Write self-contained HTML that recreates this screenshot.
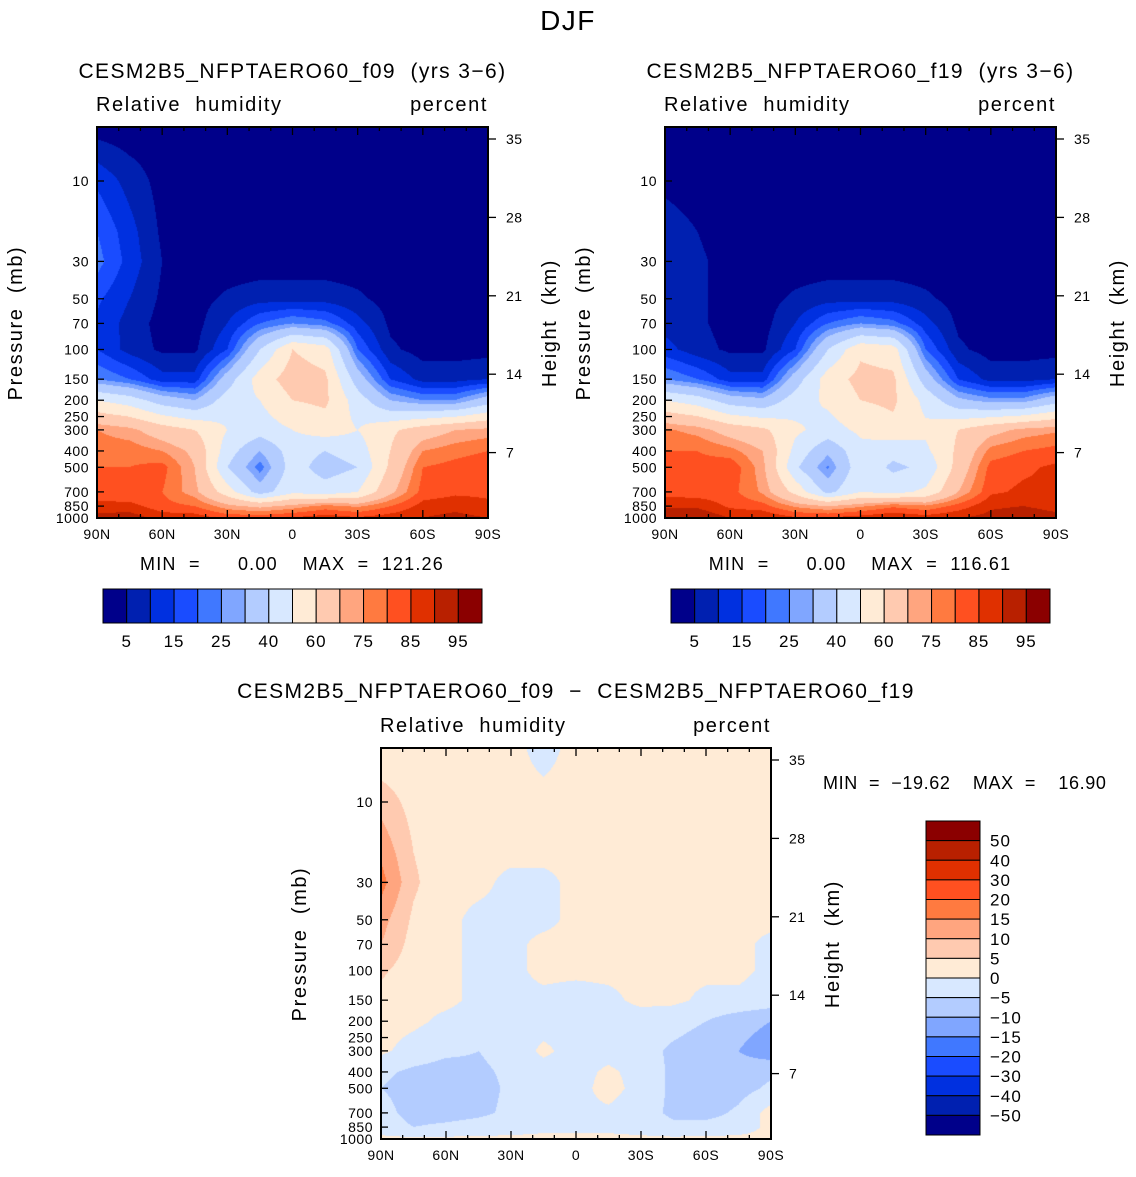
<!DOCTYPE html>
<html><head><meta charset="utf-8">
<style>
body{margin:0;background:#fff;width:1136px;height:1177px;position:relative;overflow:hidden;font-family:"Liberation Sans",sans-serif}
canvas{position:absolute}
svg{position:absolute;left:0;top:0}
svg text{white-space:pre}
</style></head>
<body>
<canvas id="c1" width="391" height="391" style="left:97px;top:127px"></canvas>
<canvas id="c2" width="391" height="391" style="left:665px;top:127px"></canvas>
<canvas id="c3" width="390" height="391" style="left:381px;top:748px"></canvas>
<svg id="ov" width="1136" height="1177"></svg>
<script>
const lats=[90,75,60,45,30,15,0,-15,-30,-45,-60,-75,-90];
const plevs=[5,10,20,30,50,70,100,150,200,300,400,500,700,850,1000];
const colors=["#00008a","#0020b0","#0030e0","#1a4cff","#4078ff","#80a6ff","#b3ccff","#d8e8ff","#ffebd6","#ffcab0","#ffa57f","#ff7a40","#ff5020","#e03000","#b82000","#8b0000"];
const levelsRH=[5,10,15,20,25,30,40,50,60,70,75,80,85,90,95];
const levelsDiff=[-50,-40,-30,-20,-15,-10,-5,0,5,10,15,20,30,40,50];
const rhLabels=["5","15","25","40","60","75","85","95"];
const diffLabels=["50","40","30","20","15","10","5","0","−5","−10","−15","−20","−30","−40","−50"];
const pTicks=[10,30,50,70,100,150,200,250,300,400,500,700,850,1000];
const zTicks=[7,14,21,28,35];
const latTicks=["90N","60N","30N","0","30S","60S","90S"];
const rhF09=[
[3,2,2,2,2,2,2,2,2,2,2,2,2],
[14,8,3,2,2,2,2,2,2,2,2,2,2],
[20,12,4,2,2,2,2,2,2,2,2,2,2],
[22,13,5,2,2,2,2,2,2,2,2,2,2],
[16,10,4,3,6,8,8,8,6,3,2,2,2],
[14,8,3,3,10,20,25,22,12,4,2,2,2],
[15,8,4,4,15,40,60,55,20,6,3,3,3],
[25,20,12,12,35,55,65,62,35,15,8,8,10],
[50,45,35,30,45,50,60,62,45,30,25,25,35],
[75,72,65,60,50,45,50,55,50,58,65,70,72],
[78,78,75,68,45,30,45,40,45,60,75,78,80],
[80,80,82,70,40,22,45,35,40,62,80,82,84],
[82,80,80,72,55,35,48,45,50,68,82,84,84],
[87,87,82,80,72,68,72,77,74,80,87,88,86],
[92,93,88,88,84,84,86,88,86,88,90,92,90]];
const rhF19=[
[2,2,2,2,2,2,2,2,2,2,2,2,2],
[4,3,2,2,2,2,2,2,2,2,2,2,2],
[7,5,2,2,2,2,2,2,2,2,2,2,2],
[8,6,3,2,2,2,2,2,2,2,2,2,2],
[7,6,3,3,6,8,8,8,6,3,2,2,2],
[8,6,3,3,10,20,25,22,12,4,2,2,2],
[12,7,4,4,15,40,58,55,20,6,3,3,3],
[25,20,12,12,35,55,63,62,35,15,8,8,10],
[50,45,35,32,45,52,60,62,47,32,27,27,36],
[76,73,66,62,52,46,52,57,52,60,67,72,74],
[80,80,77,70,47,32,47,43,48,62,77,80,82],
[82,82,84,72,42,24,47,38,42,64,82,84,86],
[83,82,82,74,57,37,50,47,52,70,84,86,86],
[89,89,84,82,74,70,74,79,76,82,89,90,88],
[94,95,90,90,86,86,88,90,88,90,92,94,92]];
const rhDiff=[
[1,1,1,1,1,-1,1,1,1,1,1,1,1],
[8,3,1,1,1,1,1,1,1,1,1,1,1],
[14,5,1,1,1,1,1,1,1,1,1,1,1],
[17,6,1,1,-1,-1,1,1,1,1,1,1,1],
[12,4,1,-1,-1,-1,1,1,1,1,1,1,1],
[10,3,1,-1,-1,1,1,1,1,1,1,1,-1],
[6,2,1,-1,-1,1,1,1,1,1,1,1,-1],
[3,1,1,-1,-1,-1,-2,-1,1,1,-1,-1,-2],
[2,1,-1,-2,-3,-2,-2,-2,-2,-3,-5,-8,-10],
[1,-2,-4,-5,-3,1,-2,-2,-3,-6,-8,-10,-13],
[-4,-6,-7,-6,-4,-2,-2,1,-2,-6,-8,-8,-6],
[-5,-7,-8,-7,-4,-2,-2,2,-2,-6,-8,-7,-4],
[-3,-7,-7,-6,-4,-2,-1,-1,-3,-6,-7,-4,2],
[-2,-5,-4,-3,-2,-1,-1,-1,-2,-4,-3,-2,1],
[1,1,1,1,1,1,1,1,1,1,1,1,1]];

const PXDEC=168.5;
function yOfP(p,top){return top+391-PXDEC*Math.log10(1000/p);}
function yOfZ(z,top){return top+391+13-z*11.2;}
function xOfLat(l,left,w){return left+(90-l)/180*w;}
function colorFor(v,lev){let i=0;while(i<lev.length&&v>=lev[i])i++;return colors[i];}

function drawContour(id,grid,lev){
  const cv=document.getElementById(id),ctx=cv.getContext('2d');
  const W=cv.width,H=cv.height;
  const lp=plevs.map(p=>Math.log10(p));
  for(let py=0;py<H;py++){
    const p=Math.pow(10,3-(H-py-0.5)/PXDEC);
    const L=Math.log10(p);
    let r=0; while(r<lp.length-2&&L>lp[r+1])r++;
    let fy=(L-lp[r])/(lp[r+1]-lp[r]); fy=Math.max(0,Math.min(1,fy));
    let run=null,start=0;
    for(let px=0;px<=W;px++){
      let c=null;
      if(px<W){
        const li=(px+0.5)/W*(lats.length-1);
        let ci=Math.min(lats.length-2,Math.floor(li)),fx=li-ci;
        const v=(grid[r][ci]*(1-fx)+grid[r][ci+1]*fx)*(1-fy)+(grid[r+1][ci]*(1-fx)+grid[r+1][ci+1]*fx)*fy;
        c=colorFor(v,lev);
      }
      if(c!==run){ if(run){ctx.fillStyle=run;ctx.fillRect(start,py,px-start,1);} run=c;start=px;}
    }
  }
}
drawContour('c1',rhF09,levelsRH);
drawContour('c2',rhF19,levelsRH);
drawContour('c3',rhDiff,levelsDiff);

const NS='http://www.w3.org/2000/svg';
const ov=document.getElementById('ov');
function mk(tag,attrs,txt){const e=document.createElementNS(NS,tag);for(const k in attrs)e.setAttribute(k,attrs[k]);if(txt!==undefined)e.textContent=txt;ov.appendChild(e);return e;}
function text(x,y,s,size,anchor,name,rot,ls){
  const a={x:x,y:y,'font-size':size,'text-anchor':anchor||'start','font-family':'Liberation Sans, sans-serif',fill:'#000','letter-spacing':(ls||0)};
  if(rot)a.transform='rotate(-90 '+x+' '+y+')';
  const e=mk('text',a,s);
  
  
  return e;
}
function line(x1,y1,x2,y2,name,w){
  const e=mk('line',{x1:x1,y1:y1,x2:x2,y2:y2,stroke:'#000','stroke-width':w||1.3});
  
  
}
function axes(L,T,W,pre,title){
  const H=391;
  const fr=mk('rect',{x:L,y:T,width:W,height:H,fill:'none',stroke:'#000','stroke-width':2});
  
  
  for(let l=90;l>=-90;l-=10){
    const x=xOfLat(l,L,W),maj=(l%30===0);
    line(x,T,x,T+(maj?8:4),pre+'-top-tick');
    line(x,T+H,x,T+H-(maj?8:4),pre+'-bottom-tick');
  }
  latTicks.forEach((s,i)=>{text(L+i*W/6,T+H+21,s,14,'middle',pre+'-x-tick-label',false,0.5);});
  pTicks.forEach(p=>{const y=yOfP(p,T);line(L,y,L+7,y,pre+'-y-tick');text(L-8,y+5,String(p),14,'end',pre+'-y-tick-label',false,0.5);});
  zTicks.forEach(z=>{const y=yOfZ(z,T);line(L+W,y,L+W+8,y,pre+'-z-tick');text(L+W+18,y+5,String(z),14,'start',pre+'-z-tick-label',false,0.5);});
  text(L-1,T-16,'Relative  humidity',20,'start',pre+'-variable-label',false,1.6);
  text(L+W,T-16,'percent',20,'end',pre+'-units-label',false,1.6);
  if(title)text(L+W/2,T-49,title,21,'middle',pre+'-title',false,1.4);
  text(L-75,T+196,'Pressure  (mb)',20,'middle',pre+'-y-axis-title',true,1.6);
  text(L+W+68,T+196,'Height  (km)',20,'middle',pre+'-z-axis-title',true,1.6);
}
text(568,30,'DJF',28,'middle','main-title',false,1.5);
axes(97,127,391,'left','CESM2B5_NFPTAERO60_f09  (yrs 3−6)');
axes(665,127,391,'right','CESM2B5_NFPTAERO60_f19  (yrs 3−6)');
axes(381,748,390,'diff','');
text(576,698,'CESM2B5_NFPTAERO60_f09  −  CESM2B5_NFPTAERO60_f19',21,'middle','diff-title',false,1.4);
text(292,570,'MIN  =      0.00    MAX  =  121.26',18,'middle','left-min-max',false,1.2);
text(860,570,'MIN  =      0.00    MAX  =  116.61',18,'middle','right-min-max',false,1.2);
text(823,789,'MIN  =  −19.62    MAX  =    16.90',18,'start','diff-min-max',false,0.6);

function hbar(L,pre){
  const T=589,W=379,Hh=34,bw=W/16;
  colors.forEach((c,i)=>{
    const r=mk('rect',{x:L+i*bw,y:T,width:bw,height:Hh,fill:c,stroke:'#000','stroke-width':1});
    
    
  });
  rhLabels.forEach((s,i)=>{text(L+(1+2*i)*bw,T+58,s,17,'middle',pre+'-colorbar-label',false,1);});
}
hbar(103,'left');hbar(671,'right');
(function(){
  const L=926,T=821,W=54,bh=314/16;
  for(let i=0;i<16;i++){
    const r=mk('rect',{x:L,y:T+i*bh,width:W,height:bh,fill:colors[15-i],stroke:'#000','stroke-width':1});
    
    
  }
  diffLabels.forEach((s,i)=>{text(L+64,T+(i+1)*bh+6,s,17,'start','diff-colorbar-label',false,1);});
})();
</script>
</body></html>
